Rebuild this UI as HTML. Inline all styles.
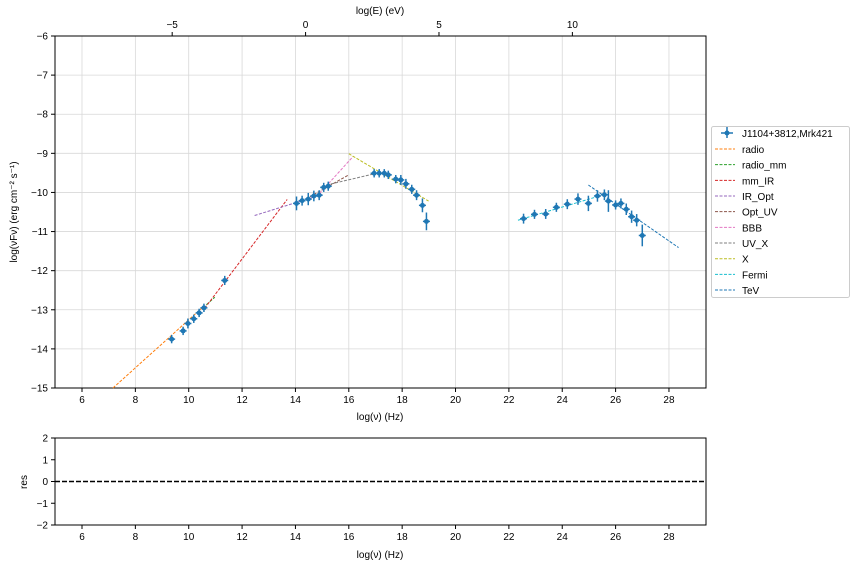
<!DOCTYPE html>
<html><head><meta charset="utf-8"><style>
body{margin:0;background:#fff;width:856px;height:568px;overflow:hidden}
svg{font-family:"Liberation Sans","DejaVu Sans",sans-serif;font-size:10px}
</style></head><body>
<svg id="c" width="856" height="568"></svg>
<script>
const ptNu=[9.36,9.79,9.97,10.19,10.39,10.57,11.35,14.04,14.25,14.48,14.69,14.89,15.06,15.23,16.95,17.14,17.33,17.48,17.76,17.95,18.14,18.36,18.54,18.76,18.91,22.55,22.96,23.38,23.78,24.19,24.59,24.98,25.32,25.58,25.73,26.0,26.2,26.4,26.6,26.79,27.0];
const ptVal=[-13.75,-13.54,-13.35,-13.23,-13.08,-12.95,-12.25,-10.28,-10.21,-10.17,-10.09,-10.07,-9.87,-9.84,-9.51,-9.51,-9.51,-9.55,-9.66,-9.68,-9.78,-9.92,-10.07,-10.33,-10.74,-10.67,-10.56,-10.55,-10.38,-10.30,-10.17,-10.28,-10.09,-10.06,-10.22,-10.32,-10.28,-10.43,-10.62,-10.71,-11.10];
const ptErr=[0.03,0.03,0.05,0.03,0.03,0.03,0.04,0.1,0.05,0.08,0.06,0.05,0.04,0.04,0.03,0.03,0.03,0.03,0.03,0.05,0.05,0.04,0.05,0.1,0.15,0.05,0.04,0.05,0.04,0.05,0.07,0.12,0.07,0.06,0.2,0.04,0.05,0.07,0.08,0.08,0.2];
const segNames=["radio","radio_mm","mm_IR","IR_Opt","Opt_UV","BBB","UV_X","X","Fermi","TeV"];
const segColors=["#ff7f0e","#2ca02c","#d62728","#9467bd","#8c564b","#e377c2","#7f7f7f","#bcbd22","#17becf","#1f77b4"];
const segX0=[7.16,10.66,10.6,12.47,14.54,14.9,15.16,16.0,22.34,24.98];
const segY0=[-15,-12.87,-12.96,-10.59,-10.11,-10.03,-9.81,-9.01,-10.71,-9.81];
const segX1=[10.5,10.98,13.69,15.0,16.0,16.16,17.04,18.99,25.4,28.36];
const segY1=[-12.95,-12.68,-10.18,-10.05,-9.55,-9.08,-9.51,-10.22,-10.09,-11.41];
const xTicks=[6,8,10,12,14,16,18,20,22,24,26,28];
const yTicks=[-6,-7,-8,-9,-10,-11,-12,-13,-14,-15];
const topTicks=[-5,0,5,10];
const resTicks=[2,1,0,-1,-2];

const L=55,R=706,T=36,B=388,RT=438,RB=525;
const xs=v=>82+(v-6)*26.68;
const ys=v=>T+(-6-v)*(B-T)/9;
const rys=v=>RT+(2-v)*(RB-RT)/4;
const NS="http://www.w3.org/2000/svg",svg=document.getElementById('c');
function mk(t,a,p){const e=document.createElementNS(NS,t);for(const k in a)e.setAttribute(k,a[k]);(p||svg).appendChild(e);return e;}
function txt(x,y,s,anchor,extra){const e=mk('text',Object.assign({x:x,y:y,'text-anchor':anchor||'middle',fill:'#000'},extra||{}));e.textContent=s;return e;}

const grid=mk('g',{stroke:'#d8d8d8','stroke-width':0.8});


xTicks.forEach(v=>{mk('line',{x1:xs(v),x2:xs(v),y1:T,y2:B},grid);});
yTicks.forEach(v=>{mk('line',{x1:L,x2:R,y1:ys(v),y2:ys(v)},grid);});
const f1=mk('rect',{x:L,y:T,width:R-L,height:B-T,fill:'none',stroke:'#000','stroke-width':1});


const f2=mk('rect',{x:L,y:RT,width:R-L,height:RB-RT,fill:'none',stroke:'#000','stroke-width':1});


xTicks.forEach(v=>{mk('line',{x1:xs(v),x2:xs(v),y1:B,y2:B+4,stroke:'#000'});const t=txt(xs(v),B+15,String(v));
 mk('line',{x1:xs(v),x2:xs(v),y1:RB,y2:RB+4,stroke:'#000'});const t2=txt(xs(v),RB+15,String(v));});
yTicks.forEach(v=>{mk('line',{x1:L-4,x2:L,y1:ys(v),y2:ys(v),stroke:'#000'});const t=txt(L-7,ys(v)+3.5,'\u2212'+Math.abs(v),'end');});
resTicks.forEach(v=>{mk('line',{x1:L-4,x2:L,y1:rys(v),y2:rys(v),stroke:'#000'});const t=txt(L-7,rys(v)+3.5,(v<0?'\u2212':'')+Math.abs(v),'end');});
topTicks.forEach(v=>{const x=xs(v+14.38);mk('line',{x1:x,x2:x,y1:T-4,y2:T,stroke:'#000'});const t=txt(x,T-8,(v<0?'\u2212':'')+Math.abs(v));});
let t=txt(380,14,'log(E) (eV)');
t=txt(380,420,'log(\u03bd)  (Hz)');
t=txt(380,558,'log(\u03bd)  (Hz)');
t=txt(0,0,'log(\u03bdF\u03bd)  (erg cm\u207b\u00b2  s\u207b\u00b9)','middle',{transform:'translate(17,212) rotate(-90)'});
t=txt(0,0,'res','middle',{transform:'translate(27,482) rotate(-90)'});
segNames.forEach((n,i)=>{const l=mk('line',{x1:xs(segX0[i]),y1:ys(segY0[i]),x2:xs(segX1[i]),y2:ys(segY1[i]),stroke:segColors[i],'stroke-width':1,'stroke-dasharray':'3,1.5'});
 
 });
ptNu.forEach((v,i)=>{const g=mk('g',{stroke:'#1f77b4',fill:'#1f77b4'});
 
 
 const x=xs(v),y=ys(ptVal[i]),e=ptErr[i]*(B-T)/9+3;
 mk('line',{x1:x,x2:x,y1:y-e,y2:y+e,'stroke-width':1.5},g);
 mk('line',{x1:x-3.5,x2:x+3.5,y1:y,y2:y,'stroke-width':1.5},g);
 mk('circle',{cx:x,cy:y,r:2.5,stroke:'none'},g);});
const z=mk('line',{x1:L,x2:R,y1:rys(0),y2:rys(0),stroke:'#000','stroke-width':1.4,'stroke-dasharray':'5,2'});


const lg=mk('g',{});


mk('rect',{x:711.5,y:126.5,width:138,height:171,rx:2,fill:'#fff',stroke:'#ccc'},lg);
let ly=133;
const pe=mk('g',{stroke:'#1f77b4',fill:'#1f77b4'},lg);
mk('line',{x1:727,x2:727,y1:ly-6,y2:ly+5,'stroke-width':1.5},pe);mk('line',{x1:721,x2:733,y1:ly,y2:ly,'stroke-width':1.5},pe);mk('circle',{cx:727,cy:ly,r:2.5,stroke:'none'},pe);
let lt=txt(742,ly+4,'J1104+3812,Mrk421','start');
lg.appendChild(lt);
segNames.forEach((n,i)=>{const yy=149+i*15.67;
 mk('line',{x1:715,x2:735,y1:yy,y2:yy,stroke:segColors[i],'stroke-dasharray':'3,1.5'},lg);
 const e=txt(742,yy+4,n,'start');
 
 
 lg.appendChild(e);});
</script>
</body></html>
